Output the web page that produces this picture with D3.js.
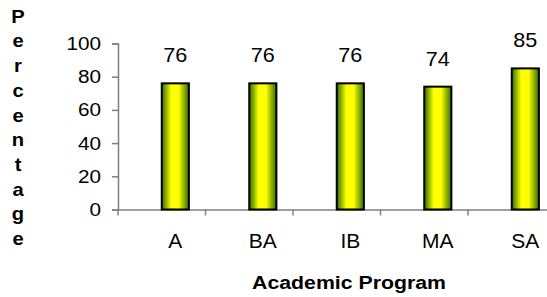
<!DOCTYPE html>
<html>
<head>
<meta charset="utf-8">
<script src="https://cdn.jsdelivr.net/npm/d3@7"></script>
<style>
  body { margin: 0; background: #fff; }
  svg { display: block; font-family: Arial, "Liberation Sans", sans-serif; }
</style>
</head>
<body>
<div id="chart"></div>
<script>
// Chart data
const programs = ["A", "BA", "IB", "MA", "SA"];
const percentages = [76, 76, 76, 74, 85];
const yTicks = [0, 20, 40, 60, 80, 100];
const yTitle = "Percentage";
const xTitle = "Academic Program";

const width = 547;
const height = 297;
// the original picture is a little wider than tall, text included
const stretch = 1.12;

const svg = d3
  .select("#chart")
  .append("svg")
  .attr("width", width)
  .attr("height", height);

// Bar gradient: green edges, yellow middle
const grad = svg
  .append("defs")
  .append("linearGradient")
  .attr("id", "barFill")
  .attr("x1", "0%")
  .attr("y1", "0%")
  .attr("x2", "100%")
  .attr("y2", "0%");
grad.append("stop").attr("offset", "0%").attr("stop-color", "#2c6e00");
grad.append("stop").attr("offset", "35%").attr("stop-color", "#ffff00");
grad.append("stop").attr("offset", "62%").attr("stop-color", "#ffff00");
grad.append("stop").attr("offset", "100%").attr("stop-color", "#2f7000");

const x = d3.scaleBand().domain(programs).range([118, 555.5]);
const y = d3.scaleLinear().domain([0, 100]).range([209.5, 43.5]);

const barW = x.bandwidth() * 0.31;
const barX = (d) => x(d) + x.bandwidth() / 2;

const place = (px, py, s = stretch) => `translate(${px},${py}) scale(${s},1)`;

// Y axis
const yAxis = svg
  .append("g")
  .attr("transform", "translate(118,0)")
  .call(d3.axisLeft(y).tickValues(yTicks).tickSize(6));
yAxis.select(".domain").attr("stroke", "#808080").attr("stroke-width", 1.5);
yAxis.selectAll(".tick line").attr("stroke", "#808080").attr("stroke-width", 1.5);
yAxis
  .selectAll(".tick text")
  .attr("x", null)
  .attr("transform", place(-17, 0))
  .attr("fill", "#000")
  .style("font-size", "18.5px");

// X axis
const xAxis = svg
  .append("g")
  .attr("transform", `translate(0,${y(0)})`)
  .call(d3.axisBottom(x).tickSize(0).tickFormat(""));
xAxis.select(".domain").attr("stroke", "#808080").attr("stroke-width", 1.5);

svg
  .append("g")
  .selectAll("line")
  .data(programs.concat([null]))
  .enter()
  .append("line")
  .attr("x1", (d, i) => x.range()[0] + i * x.step())
  .attr("x2", (d, i) => x.range()[0] + i * x.step())
  .attr("y1", y(0))
  .attr("y2", y(0) + 6)
  .attr("stroke", "#808080")
  .attr("stroke-width", 1.5);

// Category labels, centred under each bar
svg
  .append("g")
  .selectAll("text")
  .data(programs)
  .enter()
  .append("text")
  .attr("transform", (d) => place(barX(d) + barW / 2, 247.5, 1.05))
  .attr("text-anchor", "middle")
  .style("font-size", "20px")
  .text((d) => d);

// Bars
svg
  .append("g")
  .selectAll("rect")
  .data(programs)
  .enter()
  .append("rect")
  .attr("x", (d) => barX(d))
  .attr("y", (d, i) => y(percentages[i]))
  .attr("width", barW)
  .attr("height", (d, i) => y(0) - y(percentages[i]))
  .attr("fill", "url(#barFill)")
  .attr("stroke", "#000")
  .attr("stroke-width", 2);

// Value labels
svg
  .append("g")
  .selectAll("text")
  .data(programs)
  .enter()
  .append("text")
  .attr("transform", (d, i) => place(barX(d) + barW / 2, y(percentages[i]) - 21, 1.08))
  .attr("text-anchor", "middle")
  .style("font-size", "20px")
  .text((d, i) => percentages[i]);

// Vertical stacked y title
svg
  .append("g")
  .selectAll("text")
  .data(yTitle.split(""))
  .enter()
  .append("text")
  .attr("transform", (d, i) => place(18, 22.7 + i * 24.7))
  .attr("text-anchor", "middle")
  .style("font-size", "18px")
  .style("font-weight", "bold")
  .text((d) => d);

// X title
svg
  .append("text")
  .attr("transform", place(349, 289))
  .attr("text-anchor", "middle")
  .style("font-size", "19px")
  .style("font-weight", "bold")
  .text(xTitle);
</script>
</body>
</html>
